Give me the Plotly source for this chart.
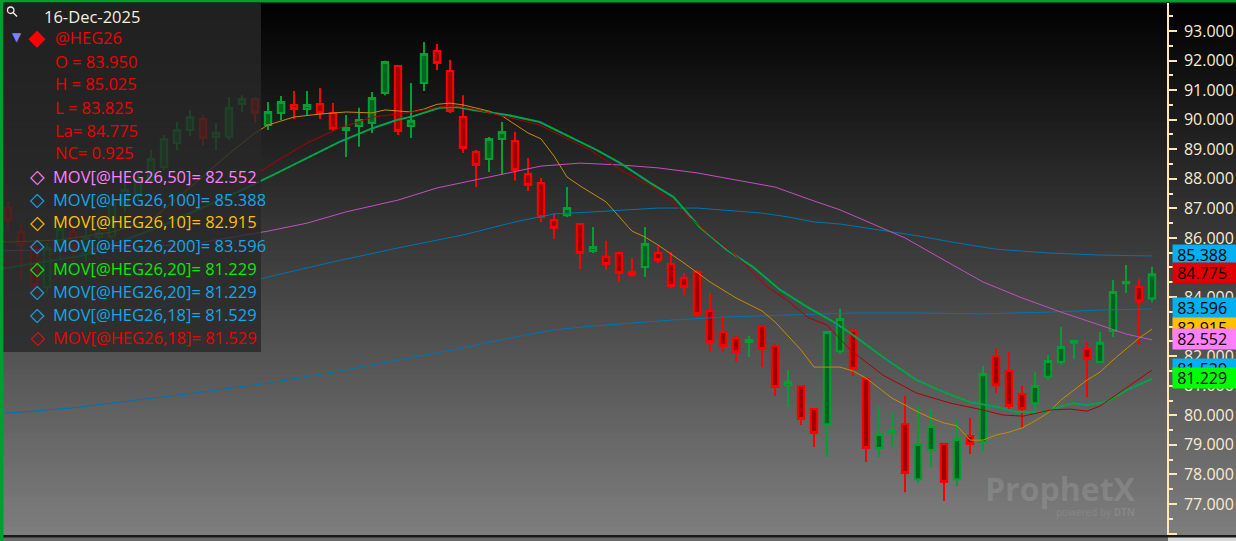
import plotly.graph_objects as go

# ---- daily bars @HEG26 ----
opens = [87.01, 86.20, 85.69, 84.34, 85.59, 86.20, 85.46, 86.03, 86.03, 87.08,
         87.45, 87.96, 88.40, 89.21, 89.65, 90.02, 89.41, 89.41, 90.53, 90.70,
         89.82, 90.23, 90.50, 90.36, 90.53, 90.23, 89.65, 89.79, 89.89, 90.90,
         91.82, 89.79, 91.24, 92.32, 91.65, 90.09, 88.91, 88.67, 89.35, 89.28,
         88.16, 87.86, 86.61, 86.77, 86.47, 85.56, 85.36, 85.49, 84.85, 85.02,
         85.49, 85.12, 84.64, 84.85, 83.53, 82.82, 82.61, 82.48, 83.02, 82.34,
         81.02, 80.99, 80.21, 79.70, 82.17, 82.85, 81.23, 78.89, 79.40, 79.70,
         77.84, 78.83, 79.03, 77.84, 79.30, 79.10, 82.00, 81.50, 80.72, 80.41,
         81.30, 81.80, 82.45, 82.24, 81.80, 82.85, 84.47, 84.34, 83.95]
highs = [87.22, 86.51, 85.93, 85.83, 86.54, 86.44, 86.33, 86.54, 87.45, 87.89,
         88.23, 88.97, 89.48, 89.92, 90.33, 90.16, 89.89, 90.77, 90.83, 90.75,
         90.60, 90.80, 90.97, 90.97, 91.07, 90.56, 90.16, 90.40, 90.94, 91.99,
         91.85, 91.24, 92.63, 92.56, 92.02, 90.83, 88.97, 89.41, 89.92, 89.58,
         88.70, 88.03, 86.84, 87.72, 86.50, 86.37, 85.90, 85.52, 85.32, 86.37,
         85.73, 85.52, 84.81, 84.92, 84.14, 83.36, 82.72, 82.68, 83.05, 82.44,
         81.53, 81.02, 80.24, 82.85, 83.60, 82.88, 81.30, 80.31, 80.11, 80.65,
         80.31, 80.21, 79.06, 79.84, 79.91, 81.67, 82.27, 82.14, 80.99, 81.46,
         82.04, 82.99, 82.55, 82.48, 82.82, 84.58, 85.08, 84.61, 85.025]
lows = [86.27, 84.58, 84.00, 84.14, 85.32, 85.19, 85.19, 85.59, 85.86, 86.88,
        87.28, 87.82, 88.30, 88.97, 89.45, 89.11, 88.97, 89.31, 90.26, 89.89,
        89.65, 89.99, 90.02, 90.16, 90.02, 89.62, 88.74, 89.08, 89.55, 90.83,
        89.48, 89.38, 90.97, 91.68, 90.23, 88.87, 87.72, 88.23, 88.13, 87.93,
        87.59, 86.54, 85.96, 86.71, 84.95, 85.49, 84.92, 84.51, 84.68, 84.68,
        85.15, 84.31, 84.07, 83.32, 82.14, 82.14, 81.80, 81.97, 81.63, 80.65,
        80.28, 79.67, 78.93, 78.59, 82.07, 81.33, 78.42, 78.59, 78.93, 77.40,
        77.71, 78.25, 77.10, 77.61, 78.69, 78.79, 80.75, 80.18, 79.57, 80.14,
        81.19, 81.73, 81.90, 80.62, 81.77, 82.65, 84.14, 82.38, 83.825]
closes = [86.61, 85.76, 84.41, 85.66, 86.30, 85.69, 86.00, 86.17, 87.18, 87.62,
          87.96, 88.67, 89.35, 89.65, 90.09, 89.38, 89.55, 90.40, 90.70, 90.23,
          90.26, 90.60, 90.36, 90.50, 90.23, 89.69, 89.72, 89.99, 90.73, 91.95,
          89.62, 89.96, 92.22, 91.92, 90.29, 89.04, 88.47, 89.35, 89.58, 88.30,
          87.79, 86.71, 86.34, 87.01, 85.49, 85.69, 85.12, 84.81, 84.75, 85.79,
          85.25, 84.37, 84.34, 83.43, 82.48, 82.34, 82.14, 82.55, 82.24, 80.96,
          81.13, 79.87, 79.40, 82.82, 83.26, 81.57, 78.89, 79.37, 79.47, 78.05,
          79.03, 79.64, 77.74, 79.20, 79.03, 81.40, 81.02, 80.31, 80.21, 80.99,
          81.84, 82.31, 82.51, 81.90, 82.45, 84.17, 84.51, 83.85, 84.775]
bars = list(range(len(opens)))

# ---- moving averages (bar index, value) ----
ma10_x = [-1, 0, 4, 8, 11, 14, 17, 19, 20, 22, 24, 26, 28, 29, 31, 32, 33, 34, 35, 36,
          37, 38, 39, 40, 41, 42, 43, 44, 46, 48, 49, 50, 52, 54, 56, 58, 59, 60, 61, 62,
          64, 65, 66, 67, 68, 69, 70, 71, 72, 73, 74, 75, 76, 77, 78, 79, 80, 81, 82, 83,
          84, 85, 86, 87, 88]
ma10_y = [85.90, 85.86, 85.93, 86.20, 86.60, 87.70, 88.85, 89.55, 89.82, 90.09, 90.19,
          90.26, 90.23, 90.33, 90.26, 90.36, 90.52, 90.56, 90.50, 90.40, 90.29, 90.13,
          89.85, 89.55, 89.35, 88.77, 88.06, 87.76, 87.22, 86.23, 86.03, 85.76, 85.15,
          84.51, 83.97, 83.53, 83.16, 82.68, 82.21, 81.63, 81.63, 81.50, 81.26, 80.92,
          80.58, 80.35, 80.11, 79.91, 79.74, 79.64, 79.16, 79.16, 79.33, 79.43, 79.57,
          79.81, 80.08, 80.52, 80.86, 81.19, 81.46, 81.87, 82.24, 82.61, 82.915]

ma20_x = [-1, 6, 12, 18, 20.4, 23, 25.5, 28.1, 29.9, 31.2, 33.2, 34.5, 35.8, 38.4, 40.9,
          45.3, 47.1, 49.4, 51.2, 53.2, 55.3, 57.3, 59.4, 61.5, 63.5, 64.8, 67.3, 69.9,
          72.5, 74, 76.1, 77.6, 79.6, 80.9, 81.9, 83, 84.5, 86.1, 88]
ma20_y = [84.92, 85.42, 86.44, 87.62, 88.13, 88.70, 89.25, 89.72, 89.99, 90.12, 90.40,
          90.43, 90.33, 90.16, 89.92, 88.97, 88.53, 87.86, 87.38, 86.37, 85.59, 85.02,
          84.24, 83.66, 83.16, 82.78, 81.97, 81.19, 80.69, 80.45, 80.28, 80.11, 80.11,
          80.28, 80.41, 80.35, 80.45, 80.86, 81.229]

ma18_x = [-1, 6, 12, 17.8, 20.4, 23, 25.5, 28.1, 30.7, 33.2, 34.5, 35.8, 38.4, 40.9,
          44.8, 47.1, 49.6, 51.5, 53.8, 56.1, 58.4, 59.9, 61.5, 63, 64.8, 67.3, 69.9,
          72.5, 75, 76.5, 78.1, 80.2, 81.7, 83, 84, 85.8, 87.3, 88]
ma18_y = [85.05, 85.59, 86.77, 87.79, 88.53, 89.21, 89.72, 90.09, 90.23, 90.43, 90.46,
          90.36, 90.09, 89.82, 88.97, 88.30, 87.72, 87.05, 86.17, 85.36, 84.34, 83.90,
          83.32, 83.05, 82.21, 81.36, 80.75, 80.41, 80.18, 80.01, 79.97, 80.18, 80.21,
          80.14, 80.31, 80.86, 81.30, 81.529]

ma50_x = [-1, 10, 15, 20, 23, 26, 30, 33, 37, 41, 44, 47, 50, 53, 56, 59, 62, 64, 66,
          69, 72, 75, 78, 81, 84, 86, 88]
ma50_y = [85.56, 85.66, 85.86, 86.23, 86.50, 86.88, 87.28, 87.69, 88.06, 88.43, 88.53,
          88.47, 88.37, 88.20, 87.96, 87.72, 87.25, 86.95, 86.57, 86.00, 85.25, 84.51,
          83.97, 83.49, 83.05, 82.75, 82.552]

ma100_x = [-1, 5, 10, 15, 20, 25, 30, 35, 39, 42, 45, 48, 50, 53, 55, 58, 60, 62, 64,
           67, 70, 73, 76, 80, 84, 88]
ma100_y = [82.45, 82.89, 83.49, 84.07, 84.68, 85.19, 85.66, 86.10, 86.54, 86.81, 86.88,
           86.95, 87.01, 87.01, 86.95, 86.84, 86.71, 86.54, 86.47, 86.27, 86.07, 85.83,
           85.62, 85.49, 85.42, 85.388]

ma200_x = [-1, 5, 10, 15, 20, 25, 30, 35, 39, 42, 45, 48, 51, 55, 60, 65, 70, 75, 80,
           84, 88]
ma200_y = [80.04, 80.25, 80.52, 80.79, 81.09, 81.46, 81.87, 82.28, 82.65, 82.89, 83.02,
           83.12, 83.22, 83.32, 83.39, 83.46, 83.46, 83.43, 83.49, 83.56, 83.596]

# ---- header / study legend ----
date_label = "16-Dec-2025"
symbol = "@HEG26"
ohlc_labels = ["O = 83.950", "H = 85.025", "L = 83.825", "La= 84.775", "NC= 0.925"]
study_periods = [50, 100, 10, 200, 20, 20, 18, 18]
study_last = ["82.552", "85.388", "82.915", "83.596", "81.229", "81.229", "81.529", "81.529"]
study_colors = ["#ff80ff", "#10a8e8", "#ffc000", "#10a8e8", "#00ee00", "#10a8e8", "#10a8e8", "#ee0000"]

# right-axis price tags (value, colour), drawn in this order
tag_values = [85.388, 84.775, 83.596, 82.915, 82.552, 81.529, 81.229]
tag_colors = ["#00b0f0", "#e00000", "#00b0f0", "#ffc000", "#ff80ff", "#00b0f0", "#00ff00"]

W, H = 1236, 541
L, R, T, B = 3, 69, 3, 6
PW, PH = W - L - R, H - T - B
FONT = "Open Sans"


def px(x):
    return (x - L) / PW


def py(y):
    return 1 - (y - T) / PH


fig = go.Figure()

fig.add_trace(go.Scatter(x=ma200_x, y=ma200_y, mode="lines", line=dict(color="#0074b0", width=1)))
fig.add_trace(go.Scatter(x=ma100_x, y=ma100_y, mode="lines", line=dict(color="#0074b0", width=1)))
fig.add_trace(go.Scatter(x=ma50_x, y=ma50_y, mode="lines", line=dict(color="#c050c0", width=1)))

fig.add_trace(go.Candlestick(
    x=bars, open=opens, high=highs, low=lows, close=closes,
    increasing=dict(line=dict(color="#00a032", width=2), fillcolor="#00631f"),
    decreasing=dict(line=dict(color="#ff0000", width=2), fillcolor="#a00000"),
    whiskerwidth=0,
))

fig.add_trace(go.Scatter(x=ma10_x, y=ma10_y, mode="lines", line=dict(color="#c88c00", width=1)))
fig.add_trace(go.Scatter(x=ma20_x, y=ma20_y, mode="lines", line=dict(color="#00a82a", width=2)))
fig.add_trace(go.Scatter(x=ma20_x, y=ma20_y, mode="lines", line=dict(color="#0090d0", width=1, dash="dot")))
fig.add_trace(go.Scatter(x=ma18_x, y=ma18_y, mode="lines", line=dict(color="#b00000", width=1)))

shapes = []
# background gradient (black at top -> grey at bottom); bands overlap to avoid seams
n_bands = 110
for k in range(n_bands):
    y0 = k * H / n_bands
    y1 = (k + 1) * H / n_bands
    c = int(round(min(1.0, (y0 + y1) / 2 / 535) * 126))
    shapes.append(dict(type="rect", xref="paper", yref="paper", layer="below",
                       x0=px(-2), x1=px(W + 2), y0=py(y1 + 1.5), y1=py(y0),
                       fillcolor=f"rgb({c},{c},{c})", line=dict(width=0)))
# bottom strip
shapes.append(dict(type="rect", xref="paper", yref="paper", layer="above",
                   x0=px(0), x1=px(W), y0=py(H), y1=py(535),
                   fillcolor="#6a6a6a", line=dict(width=0)))
shapes.append(dict(type="rect", xref="paper", yref="paper", layer="above",
                   x0=px(1168), x1=px(W), y0=py(H), y1=py(537),
                   fillcolor="#d4d4d4", line=dict(width=0)))
shapes.append(dict(type="rect", xref="paper", yref="paper", layer="above",
                   x0=px(0), x1=px(W), y0=py(537.5), y1=py(535),
                   fillcolor="#1a1a1a", line=dict(width=0)))
# green frame top / left
shapes.append(dict(type="rect", xref="paper", yref="paper", layer="above",
                   x0=px(0), x1=px(W), y0=py(2.5), y1=py(0),
                   fillcolor="#00a030", line=dict(width=0)))
shapes.append(dict(type="rect", xref="paper", yref="paper", layer="above",
                   x0=px(0), x1=px(3.5), y0=py(H), y1=py(0),
                   fillcolor="#00a030", line=dict(width=0)))
# study legend panel
shapes.append(dict(type="rect", xref="paper", yref="paper", layer="above",
                   x0=px(3.5), x1=px(261), y0=py(352), y1=py(2.5),
                   fillcolor="rgba(40,40,40,0.8)", line=dict(width=0)))
# magnifier icon
shapes.append(dict(type="circle", xref="paper", yref="paper", layer="above",
                   x0=px(7.5), x1=px(14), y0=py(13.5), y1=py(7),
                   line=dict(color="#f0f0f0", width=1.3)))
shapes.append(dict(type="line", xref="paper", yref="paper", layer="above",
                   x0=px(13), x1=px(17), y0=py(12.5), y1=py(16.5),
                   line=dict(color="#f0f0f0", width=1.5)))

ann = []


def label(x, y, text, color, size=16.5, family=FONT, anchor="left"):
    ann.append(dict(xref="paper", yref="paper", x=px(x), y=py(y), text=text,
                    showarrow=False, xanchor=anchor, yanchor="middle",
                    font=dict(family=family, size=size, color=color)))


label(42, 16, date_label, "#f4eedc")
label(17, 37, "\u25bc", "#8080ff", size=12, family="DejaVu Sans", anchor="center")
label(36.5, 38, "\u25c6", "#ff0000", size=22, family="DejaVu Sans", anchor="center")
label(53, 38, symbol, "#ee0000")
for k, t in enumerate(ohlc_labels):
    label(53, 61 + 23 * k, t, "#ee0000")
for k, (p, v, c) in enumerate(zip(study_periods, study_last, study_colors)):
    yy = 176 + 23 * k
    label(37, yy, "\u25c7", c, size=19, family="DejaVu Sans", anchor="center")
    label(51, yy, f"MOV[{symbol},{p}]= {v}", c)

# watermark
ann.append(dict(xref="paper", yref="paper", x=px(1060), y=py(488), text="<b>ProphetX</b>",
                showarrow=False, xanchor="center", yanchor="middle",
                font=dict(family=FONT, size=32, color="rgba(175,175,175,0.28)")))
ann.append(dict(xref="paper", yref="paper", x=px(1095), y=py(512), text="powered by <b>DTN</b>",
                showarrow=False, xanchor="center", yanchor="middle",
                font=dict(family=FONT, size=10, color="rgba(175,175,175,0.28)")))

# price tags on the axis
for v, c in zip(tag_values, tag_colors):
    ann.append(dict(xref="paper", yref="y", x=px(1172), y=v, text=f" {v:.3f}",
                    showarrow=False, xanchor="left", yanchor="middle", yshift=1,
                    align="left", width=64, height=20, borderpad=0,
                    bgcolor=c, font=dict(family=FONT, size=16, color="#000000")))

fig.update_layout(
    width=W, height=H,
    margin=dict(l=L, r=R, t=T, b=B, pad=0),
    paper_bgcolor="#000000", plot_bgcolor="rgba(0,0,0,0)",
    showlegend=False, hovermode=False,
    shapes=shapes, annotations=ann,
    xaxis=dict(range=[-0.385, 89.154], visible=False, rangeslider=dict(visible=False),
               showgrid=False, zeroline=False, fixedrange=True),
    yaxis=dict(range=[75.95, 93.947], side="right", dtick=1, tick0=0, tickformat=".3f",
               showgrid=False, zeroline=False, showline=True, linecolor="#ffe6b4", linewidth=1.5,
               ticks="outside", ticklen=8, tickwidth=1.5, tickcolor="#ffe6b4",
               ticklabelstandoff=4,
               minor=dict(dtick=0.5, ticks="outside", ticklen=4, tickwidth=1.5, tickcolor="#ffe6b4"),
               tickfont=dict(family=FONT, size=16, color="#f8ecd2"),
               automargin=False, fixedrange=True),
)

fig.write_html("out.html", config={"displayModeBar": False},
               post_script="document.body.style.margin='0';document.body.style.overflow='hidden';")
